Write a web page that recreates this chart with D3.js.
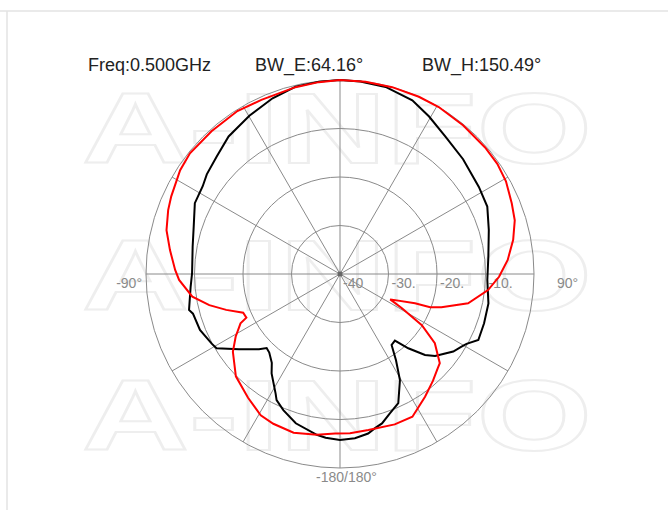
<!DOCTYPE html>
<html>
<head>
<meta charset="utf-8">
<script src="https://cdn.jsdelivr.net/npm/d3@7"></script>
<style>
  body { margin: 0; background: #fff; }
  svg { display: block; font-family: "Liberation Sans", Arial, sans-serif; }
</style>
</head>
<body>
<svg id="chart"></svg>
<script>
// E plane (black) - angle in degrees, gain in dB
const eAngles = [-175, -171.8, -163.5, -157.4, -153.3, -151.7, -145.5, -142.5, -138, -135.3, -132.9, -126.7, -121, -118.5, -111.8, -105.1, -103.4,
  -94.8, -89.7, -79.5, -72.1, -64, -57.4, -53.2, -46.4, -39, -29.8, -21, -13.3, -6.2,
  0, 6, 13.7, 22.6, 29.5, 37.6, 47, 57.9, 65.4, 73.5, 83.3, 92.3, 101.2, 108.9, 115.5,
  118.9, 120.9, 124.4, 130.8, 133.6, 137.4, 140.5, 144, 147, 150.5, 155.7, 160.3, 164.3, 167.2, 170, 174.8, 180];
const eGain = [-6.1, -6.5, -7.9, -9.6, -10.9, -12.0, -15.1, -16.9, -18.2, -18.5, -17.2, -14.0, -10.3, -9.9, -8.9, -8.6, -8.0,
  -9.1, -9.5, -9.1, -8.3, -6.7, -6.4, -5.7, -4.9, -3.5, -2.4, -1.2, -0.3, -0.1,
  0, -0.1, -0.3, -1.2, -2.7, -4.3, -5.3, -6.2, -6.6, -8.0, -9.2, -9.6, -8.8, -8.6, -8.4,
  -10.2, -10.8, -11.7, -14.1, -15.8, -19.2, -22.2, -21.9, -18.8, -14.9, -10.8, -9.5, -8.0, -7.4, -6.6, -6.0, -5.8];

// H plane (red)
const hAngles = [-178.2, -171.8, -163.7, -156, -150.7, -143.4, -134.5, -126, -121, -116.4, -115, -111.8, -107.5, -103.4, -98.7,
  -92.1, -88.6, -82, -75.8, -69.6, -65.3, -57, -51.2, -42, -32.2, -24.3, -13.4, -6.3,
  0, 7.6, 15.6, 24, 30.6, 39.7, 48.9, 55, 60.8, 67.6, 72.9, 78.8, 85.2, 91, 96.2, 102.9, 108.1, 110.2, 111.3,
  116.8, 119, 122, 126.1, 131.8, 134, 139, 145.3, 153.1, 160, 169.7, 176.4];
const hGain = [-7.1, -6.5, -5.9, -6.2, -6.6, -8.2, -9.9, -12.7, -14.9, -17.1, -18.7, -18.5, -15.4, -12.3, -9.2,
  -6.8, -6.0, -4.6, -3.1, -2.2, -1.7, -0.7, -0.3, -0.4, -0.3, -0.6, -0.4, -0.2,
  0, 0, 0, 0, 0, -0.2, -0.3, -0.4, -0.8, -1.7, -2.3, -3.6, -5.3, -7.2, -9.3, -12.9, -18.0, -20.2, -23.4,
  -28.4, -25.4, -20.1, -15.8, -12.4, -12.0, -10.8, -9.2, -7.0, -7.0, -7.3, -7.1];

const ringValues = [-30, -20, -10, 0];
const ringLabels = ['-40', '-30.', '-20.', '-10.'];
const spokeAngles = [0, 30, 60, 90, 120, 150, 180, 210, 240, 270, 300, 330];
const headerTexts = ['Freq:0.500GHz', 'BW_E:64.16°', 'BW_H:150.49°'];

const width = 668, height = 510;
const cx = 340, cy = 274, outerR = 194;

const svg = d3.select('#chart').attr('width', width).attr('height', height);

// page frame
svg.append('line').attr('x1', 0).attr('x2', width).attr('y1', 11).attr('y2', 11)
  .attr('stroke', '#e3e3e3').attr('stroke-width', 1.5);
svg.append('line').attr('x1', 7).attr('x2', 7).attr('y1', 11).attr('y2', height)
  .attr('stroke', '#e3e3e3').attr('stroke-width', 1.5);

// watermark
[163, 310, 450].forEach(y => {
  svg.append('text')
    .attr('x', 82).attr('y', y)
    .attr('textLength', 510).attr('lengthAdjust', 'spacingAndGlyphs')
    .style('font-size', '100px').style('font-weight', 'bold')
    .attr('fill', 'none').attr('stroke', '#eeeeee').attr('stroke-width', 2)
    .text('A-INFO');
});

// header
const headerX = [88, 255, 422];
svg.selectAll('.hdr').data(headerTexts).enter().append('text')
  .attr('class', 'hdr')
  .attr('x', (d, i) => headerX[i]).attr('y', 71)
  .style('font-size', '18px').attr('fill', '#222')
  .text(d => d);

const scaleR = d3.scaleLinear().domain([-40, 0]).range([0, outerR]);
const g = svg.append('g').attr('transform', 'translate(' + cx + ',' + cy + ')');

// rings
g.selectAll('.ring').data(ringValues).enter().append('circle')
  .attr('r', d => scaleR(d))
  .attr('fill', 'none').attr('stroke', '#8a8a8a').attr('stroke-width', 1);

// spokes
g.selectAll('.spoke').data(spokeAngles).enter().append('line')
  .attr('x1', 0).attr('y1', 0)
  .attr('x2', d => outerR * Math.sin(d * Math.PI / 180))
  .attr('y2', d => -outerR * Math.cos(d * Math.PI / 180))
  .attr('stroke', '#8a8a8a').attr('stroke-width', 1);

g.append('circle').attr('r', 2.5).attr('fill', '#666');

// ring labels
g.selectAll('.rlab').data(ringLabels).enter().append('text')
  .attr('x', (d, i) => scaleR(-40 + i * 10) + 3)
  .attr('y', 14)
  .style('font-size', '14px').attr('fill', '#8a8a8a')
  .text(d => d);

// angle labels
g.append('text').attr('x', -outerR - 4).attr('y', 14).attr('text-anchor', 'end')
  .style('font-size', '14px').attr('fill', '#8a8a8a').text('-90°');
g.append('text').attr('x', outerR + 23).attr('y', 14)
  .style('font-size', '14px').attr('fill', '#8a8a8a').text('90°');
g.append('text').attr('x', -24).attr('y', outerR + 14)
  .style('font-size', '14px').attr('fill', '#8a8a8a').text('-180/180°');

// patterns
const line = d3.lineRadial()
  .angle(d => d.a * Math.PI / 180)
  .radius(d => scaleR(d.g))
  .curve(d3.curveLinearClosed);

const eData = eAngles.map((a, i) => ({a: a, g: eGain[i]}));
const hData = hAngles.map((a, i) => ({a: a, g: hGain[i]}));

g.append('path').datum(eData).attr('d', line)
  .attr('fill', 'none').attr('stroke', '#000').attr('stroke-width', 2);
g.append('path').datum(hData).attr('d', line)
  .attr('fill', 'none').attr('stroke', '#ff0000').attr('stroke-width', 2);
</script>
</body>
</html>
